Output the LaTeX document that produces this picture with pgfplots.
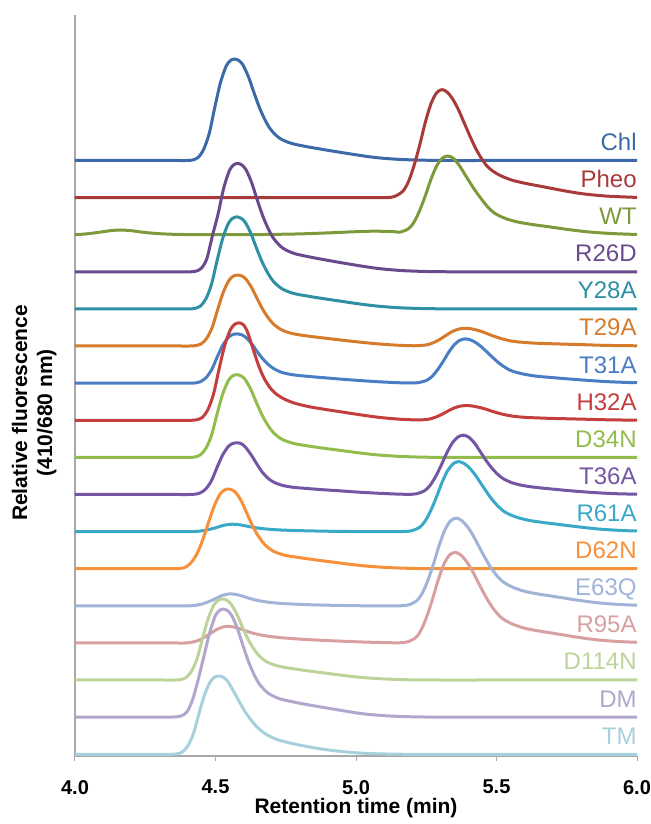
\documentclass[border=0pt]{standalone}
\usepackage{fontspec}
\setmainfont{Liberation Sans}
\usepackage{pgfplots}
\pgfplotsset{compat=1.18}
\definecolor{cChl}{HTML}{3C6AA8}
\definecolor{cPheo}{HTML}{A83A3A}
\definecolor{cWT}{HTML}{7C9A3C}
\definecolor{cRtwsD}{HTML}{694A8C}
\definecolor{cYtweA}{HTML}{2F8FA3}
\definecolor{cTtwnA}{HTML}{D67A2C}
\definecolor{cTthoA}{HTML}{4A7EC4}
\definecolor{cHthtA}{HTML}{C43E3E}
\definecolor{cDthfN}{HTML}{92BC4C}
\definecolor{cTthsA}{HTML}{7556A4}
\definecolor{cRsoA}{HTML}{3AA9C8}
\definecolor{cDstN}{HTML}{F7903A}
\definecolor{cEsthQ}{HTML}{A0B4D8}
\definecolor{cRnfA}{HTML}{D8A0A0}
\definecolor{cDoofN}{HTML}{BCD49A}
\definecolor{cDM}{HTML}{B3A6CC}
\definecolor{cTM}{HTML}{A6D0DC}
\definecolor{axgray}{HTML}{A8A8A8}
\begin{document}
\begin{tikzpicture}[lbl/.style={anchor=base east, inner sep=0pt, font=\fontsize{12}{14}\selectfont}]
\useasboundingbox (-37.5pt,-34pt) rectangle (288pt,378pt);
\begin{axis}[
  at={(0,0)}, anchor=south west,
  width=281pt, height=370.5pt, scale only axis,
  xmin=4, xmax=6, ymin=0, ymax=741,
  axis lines=left, axis line style={-, axgray, line width=0.6pt},
  ytick=\empty,
  xtick={4,4.5,5,5.5,6},
  xticklabels={4.0,4.5,5.0,5.5,6.0},
  tick align=outside, major tick length=2.5pt,
  tick style={axgray, line width=0.5pt},
  x tick label style={font=\bfseries\fontsize{10}{12}\selectfont, yshift=-6pt},
  xlabel={Retention time (min)},
  xlabel style={at={(axis description cs:0.5,-0.0702)}, anchor=center, font=\bfseries\fontsize{10.5}{12.5}\selectfont},
  ylabel={Relative fluorescence\\(410/680 nm)},
  ylabel style={at={(axis description cs:-0.0726,0.463)}, anchor=center, align=center, font=\bfseries\fontsize{10.5}{12.5}\selectfont},
  clip=false,
  every axis plot/.append style={smooth, tension=0.5, line width=1.5pt, line join=round},
]
% Chl
\addplot[cChl] table[row sep=\\, y expr=\thisrow{y}+595.5] {x y\\
4.000 0\\ 4.118 0\\ 4.218 0\\ 4.298 0\\ 4.358 0\\ 4.398 0\\ 4.418 0.5\\ 4.438 3.0\\ 4.458 11.2\\ 4.478 27.4\\ 4.498 53.8\\ 4.518 78.2\\ 4.538 94.4\\ 4.553 100.0\\ 4.568 101.5\\ 4.583 100.0\\ 4.598 95.4\\ 4.618 83.2\\ 4.638 67.0\\ 4.658 51.8\\ 4.678 39.6\\ 4.698 30.5\\ 4.728 22.3\\ 4.768 17.3\\ 4.818 14.2\\ 4.868 11.7\\ 4.928 8.9\\ 4.998 5.8\\ 5.068 3.0\\ 5.148 1.2\\ 5.238 0.3\\ 5.338 0\\ 5.47 0\\ 5.62 0\\ 5.80 0\\ 6.00 0\\};
\node[lbl, text=cChl] at (axis cs:6,605.5) {Chl};
% Pheo
\addplot[cPheo] table[row sep=\\, y expr=\thisrow{y}+558.4] {x y\\
4.000 0\\ 4.250 0\\ 4.450 0\\ 4.600 0\\ 4.757 0\\ 4.887 0\\ 4.987 0\\ 5.057 0\\ 5.107 0\\ 5.137 1.1\\ 5.167 6.5\\ 5.187 16.2\\ 5.207 32.4\\ 5.227 52.9\\ 5.247 75.6\\ 5.267 94.0\\ 5.287 104.8\\ 5.307 108.0\\ 5.327 104.8\\ 5.347 97.2\\ 5.367 86.4\\ 5.387 73.4\\ 5.407 60.5\\ 5.427 48.6\\ 5.447 38.9\\ 5.467 31.3\\ 5.487 26.5\\ 5.517 21.6\\ 5.557 17.3\\ 5.607 14.0\\ 5.667 10.8\\ 5.737 7.0\\ 5.807 3.8\\ 5.887 1.6\\ 5.977 0.4\\ 6.000 0.3\\};
\node[lbl, text=cPheo] at (axis cs:6,568.4) {Pheo};
% WT
\addplot[cWT] table[row sep=\\, y expr=\thisrow{y}+521.3] {x y\\
4.000 0\\ 4.040 0.8\\ 4.080 2.2\\ 4.120 3.8\\ 4.160 4.7\\ 4.200 4.0\\ 4.240 2.5\\ 4.290 1.2\\ 4.350 0.4\\ 4.450 0\\ 4.600 0\\ 4.700 0.3\\ 4.800 0.8\\ 4.900 1.8\\ 5.000 3.0\\ 5.060 3.5\\ 5.107 3.3\\ 5.137 3.0\\ 5.157 2.6\\ 5.187 6.0\\ 5.207 12.8\\ 5.227 24.4\\ 5.247 39.2\\ 5.267 55.5\\ 5.287 68.8\\ 5.307 76.5\\ 5.327 78.7\\ 5.347 76.3\\ 5.367 69.5\\ 5.387 60.5\\ 5.407 51.5\\ 5.427 43.0\\ 5.447 35.4\\ 5.467 28.3\\ 5.487 22.8\\ 5.507 19.3\\ 5.537 15.7\\ 5.577 12.6\\ 5.627 10.2\\ 5.687 7.9\\ 5.757 5.1\\ 5.827 2.8\\ 5.907 1.2\\ 6.000 0.2\\};
\node[lbl, text=cWT] at (axis cs:6,531.3) {WT};
% R26D
\addplot[cRtwsD] table[row sep=\\, y expr=\thisrow{y}+484.2] {x y\\
4.000 0\\ 4.129 0\\ 4.229 0\\ 4.309 0\\ 4.369 0\\ 4.409 0\\ 4.429 0.5\\ 4.449 3.3\\ 4.469 13.0\\ 4.489 36.0\\ 4.509 57.5\\ 4.529 83.5\\ 4.549 100.8\\ 4.564 106.8\\ 4.579 108.4\\ 4.594 106.8\\ 4.609 101.9\\ 4.629 88.9\\ 4.649 71.5\\ 4.669 55.3\\ 4.689 42.3\\ 4.709 32.5\\ 4.739 23.8\\ 4.779 18.4\\ 4.829 15.2\\ 4.879 12.5\\ 4.939 9.5\\ 5.009 6.2\\ 5.079 3.3\\ 5.159 1.3\\ 5.249 0.3\\ 5.349 0\\ 5.50 0\\ 5.65 0\\ 5.82 0\\ 6.00 0\\};
\node[lbl, text=cRtwsD] at (axis cs:6,494.2) {R26D};
% Y28A
\addplot[cYtweA] table[row sep=\\, y expr=\thisrow{y}+447.1] {x y\\
4.000 0\\ 4.126 0\\ 4.226 0\\ 4.306 0\\ 4.366 0\\ 4.406 0\\ 4.426 0.5\\ 4.446 2.8\\ 4.466 10.1\\ 4.486 24.8\\ 4.506 48.8\\ 4.526 70.8\\ 4.546 85.6\\ 4.561 90.6\\ 4.576 92.0\\ 4.591 90.6\\ 4.606 86.5\\ 4.626 75.4\\ 4.646 60.7\\ 4.666 46.9\\ 4.686 35.9\\ 4.706 27.6\\ 4.736 20.2\\ 4.776 15.6\\ 4.826 12.9\\ 4.876 10.6\\ 4.936 8.1\\ 5.006 5.2\\ 5.076 2.8\\ 5.156 1.1\\ 5.246 0.3\\ 5.346 0\\ 5.50 0\\ 5.65 0\\ 5.82 0\\ 6.00 0\\};
\node[lbl, text=cYtweA] at (axis cs:6,457.1) {Y28A};
% T29A
\addplot[cTtwnA] table[row sep=\\, y expr=\thisrow{y}+410.0] {x y\\
4.000 0\\ 4.129 0\\ 4.229 0\\ 4.309 0\\ 4.369 0\\ 4.409 0\\ 4.429 0.4\\ 4.449 2.1\\ 4.469 7.8\\ 4.489 19.2\\ 4.509 37.6\\ 4.529 54.7\\ 4.549 66.0\\ 4.564 69.9\\ 4.579 71.0\\ 4.594 69.9\\ 4.609 66.7\\ 4.629 58.2\\ 4.649 46.9\\ 4.669 36.2\\ 4.689 27.7\\ 4.709 21.3\\ 4.739 15.6\\ 4.779 12.1\\ 4.829 9.9\\ 4.879 8.2\\ 4.939 6.2\\ 5.009 4.0\\ 5.079 2.1\\ 5.140 0.9\\ 5.190 0.3\\ 5.220 0.3\\ 5.250 1.1\\ 5.270 2.7\\ 5.290 5.3\\ 5.310 8.7\\ 5.330 12.4\\ 5.350 15.4\\ 5.370 17.2\\ 5.390 17.7\\ 5.410 17.2\\ 5.430 15.9\\ 5.450 14.2\\ 5.470 12.0\\ 5.490 9.9\\ 5.510 8.0\\ 5.530 6.4\\ 5.550 5.1\\ 5.570 4.3\\ 5.600 3.5\\ 5.640 2.8\\ 5.690 2.3\\ 5.750 1.8\\ 5.820 1.2\\ 5.890 0.6\\ 5.970 0.3\\ 6.000 0.2\\};
\node[lbl, text=cTtwnA] at (axis cs:6,420.0) {T29A};
% T31A
\addplot[cTthoA] table[row sep=\\, y expr=\thisrow{y}+372.8] {x y\\
4.000 0\\ 4.126 0\\ 4.226 0\\ 4.306 0\\ 4.366 0\\ 4.406 0\\ 4.426 0.2\\ 4.446 1.5\\ 4.466 5.4\\ 4.486 13.3\\ 4.506 26.1\\ 4.526 38.0\\ 4.546 45.8\\ 4.561 48.6\\ 4.576 49.3\\ 4.591 48.6\\ 4.606 46.3\\ 4.626 40.4\\ 4.646 32.5\\ 4.666 25.1\\ 4.686 19.2\\ 4.706 14.8\\ 4.736 10.8\\ 4.776 8.4\\ 4.826 6.9\\ 4.876 5.7\\ 4.936 4.3\\ 5.006 2.8\\ 5.076 1.5\\ 5.140 0.6\\ 5.190 0.2\\ 5.220 0.5\\ 5.250 2.7\\ 5.270 6.6\\ 5.290 13.3\\ 5.310 21.7\\ 5.330 31.0\\ 5.350 38.5\\ 5.370 43.0\\ 5.390 44.3\\ 5.410 43.0\\ 5.430 39.9\\ 5.450 35.4\\ 5.470 30.1\\ 5.490 24.8\\ 5.510 19.9\\ 5.530 15.9\\ 5.550 12.8\\ 5.570 10.9\\ 5.600 8.9\\ 5.640 7.1\\ 5.690 5.8\\ 5.750 4.4\\ 5.820 2.9\\ 5.890 1.6\\ 5.970 0.7\\ 6.000 0.5\\};
\node[lbl, text=cTthoA] at (axis cs:6,382.8) {T31A};
% H32A
\addplot[cHthtA] table[row sep=\\, y expr=\thisrow{y}+335.7] {x y\\
4.000 0\\ 4.133 0\\ 4.233 0\\ 4.313 0\\ 4.373 0\\ 4.413 0\\ 4.433 0.5\\ 4.453 2.9\\ 4.473 10.7\\ 4.493 26.3\\ 4.513 51.6\\ 4.533 75.0\\ 4.553 90.6\\ 4.568 95.9\\ 4.583 97.4\\ 4.598 95.9\\ 4.613 89.0\\ 4.633 72.0\\ 4.653 55.0\\ 4.673 42.0\\ 4.693 33.0\\ 4.713 27.0\\ 4.743 21.5\\ 4.783 17.0\\ 4.833 13.6\\ 4.883 11.2\\ 4.943 8.6\\ 5.013 5.6\\ 5.083 2.9\\ 5.150 1.2\\ 5.200 0.5\\ 5.224 0.3\\ 5.254 0.9\\ 5.274 2.2\\ 5.294 4.4\\ 5.314 7.2\\ 5.334 10.3\\ 5.354 12.8\\ 5.374 14.3\\ 5.394 14.7\\ 5.414 14.3\\ 5.434 13.2\\ 5.454 11.8\\ 5.474 10.0\\ 5.494 8.2\\ 5.514 6.6\\ 5.534 5.3\\ 5.554 4.3\\ 5.574 3.6\\ 5.604 2.9\\ 5.644 2.4\\ 5.694 1.9\\ 5.754 1.5\\ 5.824 1.0\\ 5.894 0.5\\ 5.974 0.2\\ 6.000 0.1\\};
\node[lbl, text=cHthtA] at (axis cs:6,345.7) {H32A};
% D34N
\addplot[cDthfN] table[row sep=\\, y expr=\thisrow{y}+298.6] {x y\\
4.000 0\\ 4.126 0\\ 4.226 0\\ 4.306 0\\ 4.366 0\\ 4.406 0\\ 4.426 0.4\\ 4.446 2.5\\ 4.466 9.1\\ 4.486 22.3\\ 4.506 43.8\\ 4.526 63.7\\ 4.546 76.9\\ 4.561 81.5\\ 4.576 82.7\\ 4.591 81.5\\ 4.606 77.7\\ 4.626 67.8\\ 4.646 54.6\\ 4.666 42.2\\ 4.686 32.3\\ 4.706 24.8\\ 4.736 18.2\\ 4.776 14.1\\ 4.826 11.6\\ 4.876 9.5\\ 4.936 7.3\\ 5.006 4.7\\ 5.076 2.5\\ 5.156 1.0\\ 5.246 0.2\\ 5.346 0\\ 5.50 0\\ 5.65 0\\ 5.82 0\\ 6.00 0\\};
\node[lbl, text=cDthfN] at (axis cs:6,308.6) {D34N};
% T36A
\addplot[cTthsA] table[row sep=\\, y expr=\thisrow{y}+261.5] {x y\\
4.000 0\\ 4.126 0\\ 4.226 0\\ 4.306 0\\ 4.366 0\\ 4.406 0\\ 4.426 0.3\\ 4.446 1.6\\ 4.466 5.7\\ 4.486 14.0\\ 4.506 27.4\\ 4.526 39.8\\ 4.546 48.1\\ 4.561 50.9\\ 4.576 51.7\\ 4.591 50.9\\ 4.606 47.5\\ 4.626 40.0\\ 4.646 31.0\\ 4.666 22.5\\ 4.686 16.5\\ 4.706 12.5\\ 4.736 9.3\\ 4.776 7.2\\ 4.826 6.0\\ 4.876 4.9\\ 4.936 3.8\\ 5.006 2.4\\ 5.076 1.3\\ 5.130 0.6\\ 5.180 0.2\\ 5.213 0.6\\ 5.243 3.6\\ 5.263 8.9\\ 5.283 17.8\\ 5.303 29.1\\ 5.323 41.5\\ 5.343 51.6\\ 5.363 57.5\\ 5.383 59.3\\ 5.403 57.0\\ 5.423 51.0\\ 5.443 42.5\\ 5.463 34.0\\ 5.483 26.5\\ 5.503 20.5\\ 5.523 16.0\\ 5.553 12.0\\ 5.593 9.0\\ 5.643 7.0\\ 5.703 5.3\\ 5.773 3.5\\ 5.843 2.0\\ 5.923 0.8\\ 6.000 0.3\\};
\node[lbl, text=cTthsA] at (axis cs:6,271.5) {T36A};
% R61A
\addplot[cRsoA] table[row sep=\\, y expr=\thisrow{y}+224.4] {x y\\
4.000 0\\ 4.150 0\\ 4.280 0\\ 4.360 0\\ 4.419 0\\ 4.459 1.1\\ 4.499 3.7\\ 4.529 6.3\\ 4.559 7.4\\ 4.589 6.7\\ 4.619 5.0\\ 4.649 3.6\\ 4.689 2.4\\ 4.739 1.5\\ 4.809 0.9\\ 4.889 0.4\\ 4.979 0.1\\ 5.046 0\\ 5.116 0\\ 5.166 0\\ 5.196 0.7\\ 5.226 4.2\\ 5.246 10.5\\ 5.266 21.0\\ 5.286 34.3\\ 5.306 49.0\\ 5.326 60.9\\ 5.346 67.9\\ 5.366 70.0\\ 5.386 67.9\\ 5.406 63.0\\ 5.426 56.0\\ 5.446 47.6\\ 5.466 39.2\\ 5.486 31.5\\ 5.506 25.2\\ 5.526 20.3\\ 5.546 17.2\\ 5.576 14.0\\ 5.616 11.2\\ 5.666 9.1\\ 5.726 7.0\\ 5.796 4.6\\ 5.866 2.5\\ 5.946 1.1\\ 6.000 0.6\\};
\node[lbl, text=cRsoA] at (axis cs:6,234.4) {R61A};
% D62N
\addplot[cDstN] table[row sep=\\, y expr=\thisrow{y}+187.3] {x y\\
4.000 0\\ 4.096 0\\ 4.196 0\\ 4.276 0\\ 4.336 0\\ 4.376 0.3\\ 4.396 2.0\\ 4.416 7.0\\ 4.436 16.0\\ 4.456 30.0\\ 4.476 47.0\\ 4.496 63.0\\ 4.516 74.5\\ 4.531 78.5\\ 4.546 79.7\\ 4.561 78.5\\ 4.576 74.9\\ 4.596 65.4\\ 4.616 52.6\\ 4.636 40.6\\ 4.656 31.1\\ 4.676 23.9\\ 4.706 17.5\\ 4.746 13.5\\ 4.796 11.2\\ 4.846 9.2\\ 4.906 7.0\\ 4.976 4.5\\ 5.046 2.4\\ 5.126 1.0\\ 5.216 0.2\\ 5.316 0\\ 5.45 0\\ 5.60 0\\ 5.78 0\\ 6.00 0\\};
\node[lbl, text=cDstN] at (axis cs:6,197.3) {D62N};
% E63Q
\addplot[cEsthQ] table[row sep=\\, y expr=\thisrow{y}+150.2] {x y\\
4.000 0\\ 4.150 0\\ 4.270 0\\ 4.350 0\\ 4.412 0\\ 4.452 1.8\\ 4.492 6.0\\ 4.522 10.2\\ 4.552 12.0\\ 4.582 10.8\\ 4.612 8.2\\ 4.642 5.8\\ 4.682 3.8\\ 4.732 2.4\\ 4.802 1.4\\ 4.882 0.7\\ 4.972 0.2\\ 5.037 0\\ 5.107 0\\ 5.157 0\\ 5.187 0.9\\ 5.217 5.3\\ 5.237 13.2\\ 5.257 26.3\\ 5.277 43.0\\ 5.297 61.4\\ 5.317 76.3\\ 5.337 85.1\\ 5.357 87.7\\ 5.377 85.1\\ 5.397 78.9\\ 5.417 70.2\\ 5.437 59.6\\ 5.457 49.1\\ 5.477 39.5\\ 5.497 31.6\\ 5.517 25.4\\ 5.537 21.5\\ 5.567 17.5\\ 5.607 14.0\\ 5.657 11.4\\ 5.717 8.8\\ 5.787 5.7\\ 5.857 3.1\\ 5.937 1.3\\ 6.000 0.6\\};
\node[lbl, text=cEsthQ] at (axis cs:6,160.2) {E63Q};
% R95A
\addplot[cRnfA] table[row sep=\\, y expr=\thisrow{y}+113.1] {x y\\
4.000 0\\ 4.140 0\\ 4.260 0\\ 4.340 0\\ 4.399 0\\ 4.439 2.5\\ 4.479 8.8\\ 4.509 14.1\\ 4.539 16.6\\ 4.569 15.6\\ 4.599 13.0\\ 4.629 10.0\\ 4.669 7.5\\ 4.719 5.6\\ 4.789 4.0\\ 4.869 2.7\\ 4.959 1.6\\ 5.033 0.8\\ 5.103 0.3\\ 5.153 0.1\\ 5.183 1.0\\ 5.213 5.4\\ 5.233 13.6\\ 5.253 27.2\\ 5.273 44.4\\ 5.293 63.4\\ 5.313 78.8\\ 5.333 87.9\\ 5.353 90.6\\ 5.373 87.9\\ 5.393 81.5\\ 5.413 72.5\\ 5.433 61.6\\ 5.453 50.7\\ 5.473 40.8\\ 5.493 32.6\\ 5.513 26.3\\ 5.533 22.2\\ 5.563 18.1\\ 5.603 14.5\\ 5.653 11.8\\ 5.713 9.1\\ 5.783 5.9\\ 5.853 3.2\\ 5.933 1.4\\ 6.000 0.6\\};
\node[lbl, text=cRnfA] at (axis cs:6,123.1) {R95A};
% D114N
\addplot[cDoofN] table[row sep=\\, y expr=\thisrow{y}+76.0] {x y\\
4.000 0\\ 4.075 0\\ 4.175 0\\ 4.255 0\\ 4.315 0\\ 4.355 0\\ 4.375 0.4\\ 4.395 2.4\\ 4.415 8.9\\ 4.435 21.9\\ 4.455 42.9\\ 4.475 62.4\\ 4.495 75.3\\ 4.510 79.8\\ 4.525 81.0\\ 4.540 79.8\\ 4.555 76.1\\ 4.575 66.4\\ 4.595 53.5\\ 4.615 41.3\\ 4.635 31.6\\ 4.655 24.3\\ 4.685 17.8\\ 4.725 13.8\\ 4.775 11.3\\ 4.825 9.3\\ 4.885 7.1\\ 4.955 4.6\\ 5.025 2.4\\ 5.105 1.0\\ 5.195 0.2\\ 5.295 0\\ 5.45 0\\ 5.60 0\\ 5.78 0\\ 6.00 0\\};
\node[lbl, text=cDoofN] at (axis cs:6,86.0) {D114N};
% DM
\addplot[cDM] table[row sep=\\, y expr=\thisrow{y}+38.9] {x y\\
4.000 0\\ 4.078 0\\ 4.178 0\\ 4.258 0\\ 4.318 0\\ 4.358 0.2\\ 4.378 1.2\\ 4.398 5.0\\ 4.418 17.0\\ 4.438 37.0\\ 4.458 60.0\\ 4.478 83.2\\ 4.498 100.4\\ 4.513 106.4\\ 4.528 108.0\\ 4.543 106.4\\ 4.558 101.5\\ 4.578 88.6\\ 4.598 71.3\\ 4.618 55.1\\ 4.638 42.1\\ 4.658 32.4\\ 4.688 23.8\\ 4.728 18.4\\ 4.778 15.1\\ 4.828 12.4\\ 4.888 9.5\\ 4.958 6.2\\ 5.028 3.2\\ 5.108 1.3\\ 5.198 0.3\\ 5.298 0\\ 5.45 0\\ 5.60 0\\ 5.78 0\\ 6.00 0\\};
\node[lbl, text=cDM] at (axis cs:6,48.9) {DM};
% TM
\addplot[cTM] table[row sep=\\, y expr=\thisrow{y}+1.7] {x y\\
4.000 0\\ 4.062 0\\ 4.162 0\\ 4.242 0\\ 4.302 0\\ 4.342 0\\ 4.362 0.4\\ 4.382 2.3\\ 4.402 8.6\\ 4.422 21.1\\ 4.442 41.5\\ 4.462 60.3\\ 4.482 72.8\\ 4.497 77.1\\ 4.512 78.3\\ 4.527 77.1\\ 4.542 73.6\\ 4.562 64.2\\ 4.582 54.0\\ 4.602 44.0\\ 4.622 36.0\\ 4.642 29.0\\ 4.672 21.5\\ 4.712 15.5\\ 4.762 11.5\\ 4.812 8.5\\ 4.872 5.5\\ 4.942 3.0\\ 5.012 1.3\\ 5.092 0.4\\ 5.182 0\\ 5.30 0\\ 5.45 0\\ 5.60 0\\ 5.78 0\\ 6.00 0\\};
\node[lbl, text=cTM] at (axis cs:6,11.7) {TM};
\end{axis}
\end{tikzpicture}
\end{document}
